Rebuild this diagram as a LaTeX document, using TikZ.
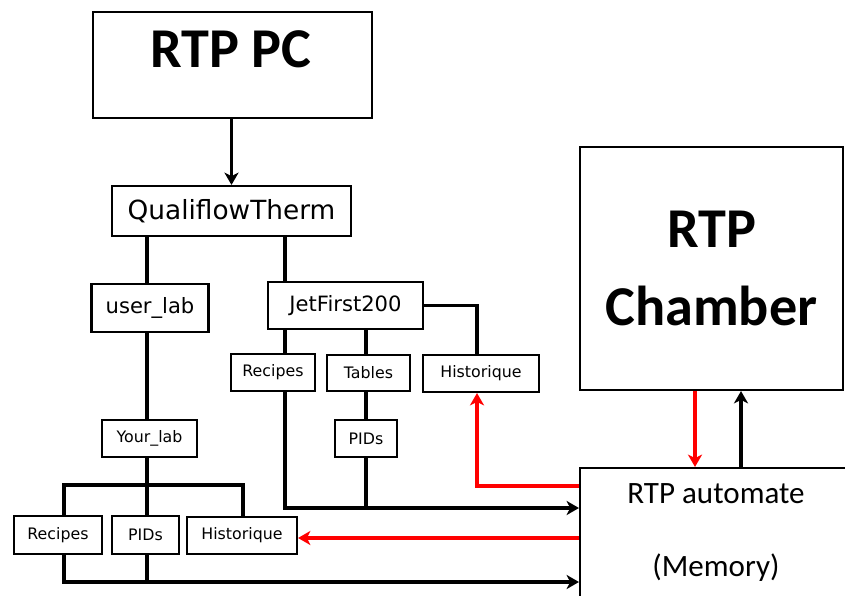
\documentclass[tikz,border=0pt]{standalone}
\usepackage{fontspec}
\setmainfont{Carlito}
\newfontfamily\labfont{DejaVu Sans}
\usepackage{xcolor}
\usepackage{tikz}
\usetikzlibrary{arrows.meta}
\usetikzlibrary{calc,positioning}

\definecolor{linkred}{RGB}{255,0,0}
\newcommand{\pxu}{0.03cm}

\tikzset{
    box/.style 2 args={draw, line width=1.8pt, inner sep=0pt,
        minimum width=#1*\pxu, minimum height=#2*\pxu},
    conn/.style={line width=2.8pt},
    arr/.style={conn, -{Stealth[length=10.5pt,width=12pt,inset=3pt]}},
    redarr/.style={arr, draw=linkred},
    big/.style={font=\fontsize{48}{67}\selectfont\bfseries},
    top/.style={font=\labfont\fontsize{22.5}{26}\selectfont},
    mid/.style={font=\labfont\fontsize{18}{21}\selectfont},
    small/.style={font=\labfont\fontsize{13.5}{16}\selectfont},
    memo/.style={font=\fontsize{26.5}{30}\selectfont},
}

\begin{document}
\begin{tikzpicture}[x=0.03cm, y=-0.03cm]
    \useasboundingbox (0,0) rectangle (845,596);

    % Columns and buses
    \coordinate (colL) at (64,0);
    \coordinate (colU) at (147,0);
    \coordinate (colR) at (243,0);
    \coordinate (colQ) at (285,0);
    \coordinate (colT) at (366,0);
    \coordinate (colH) at (477,0);
    \coordinate (colDn) at (695,0);
    \coordinate (colUp) at (741,0);
    \coordinate (busY) at (0,485);
    \coordinate (busJ) at (0,508);
    \coordinate (busB) at (0,582);
    \coordinate (redH) at (0,486);
    \coordinate (redB) at (0,538);

    % Main blocks
    \node[box={279}{106}] (pc) at (232.5,65) {};
    \node[big, anchor=base] (pclab) at (231,68) {RTP PC};
    \node[box={263}{243}, big, align=center] (chamber) at (711.5,268.5) {RTP\\Chamber};
    \node[box={270}{132}] (auto) at (715,534) {};
    \node[memo] (autolab) at (716,494) {RTP automate};
    \node[memo] (memlab) at (716,568) {(Memory)};

    % Tree
    \node[box={239}{50}, top] (qual) at (231.5,211) {QualiflowTherm};
    \node[box={117}{48}, mid] (ulab) at (150,308) {user\_lab};
    \node[box={155}{47}, mid] (jet) at (345.5,305.5) {JetFirst200};
    \node[box={84}{37}, small] (rec1) at (273,372.5) {Recipes};
    \node[box={83}{36}, small] (tab) at (368.5,373) {Tables};
    \node[box={116}{37}, small] (hist1) at (481,373.5) {Historique};
    \node[box={62}{37}, small] (pid1) at (366,438.5) {PIDs};
    \node[box={95}{37}, small] (ylab) at (149.5,438.5) {Your\_lab};
    \node[box={88}{38}, small] (rec2) at (58,535) {Recipes};
    \node[box={67}{38}, small] (pid2) at (145.5,535) {PIDs};
    \node[box={110}{37}, small] (hist2) at (242,535.5) {Historique};

    % Links
    \draw[arr] (pc.south -| qual) -- (qual.north);
    \draw[conn] (qual.south -| colU) -- (ulab.north -| colU);
    \draw[conn] (ulab.south -| colU) -- (ylab.north -| colU);
    \draw[conn] (ylab.south -| colU) -- (pid2.north -| colU);
    \draw[conn] (rec2.north -| colL) |- (busY -| colR) -- (hist2.north -| colR);
    \draw[arr] (rec2.south -| colL) |- (auto.west |- busB);
    \draw[conn] (pid2.south -| colU) -- (busB -| colU);

    \draw[conn] (qual.south -| colQ) -- (jet.north -| colQ);
    \draw[conn] (jet.south -| colQ) -- (rec1.north -| colQ);
    \draw[conn] (jet.south -| colT) -- (tab.north -| colT);
    \draw[conn] (tab.south -| colT) -- (pid1.north -| colT);
    \draw[conn] (jet.east) -| (hist1.north -| colH);
    \draw[arr] (rec1.south -| colQ) |- (auto.west |- busJ);
    \draw[conn] (pid1.south -| colT) -- (busJ -| colT);

    % Red feedback
    \draw[redarr] (auto.west |- redH) -| (hist1.south -| colH);
    \draw[redarr] (auto.west |- redB) -- (hist2.east |- redB);
    \draw[redarr] (chamber.south -| colDn) -- (auto.north -| colDn);
    \draw[arr] (auto.north -| colUp) -- (chamber.south -| colUp);
\end{tikzpicture}
\end{document}
